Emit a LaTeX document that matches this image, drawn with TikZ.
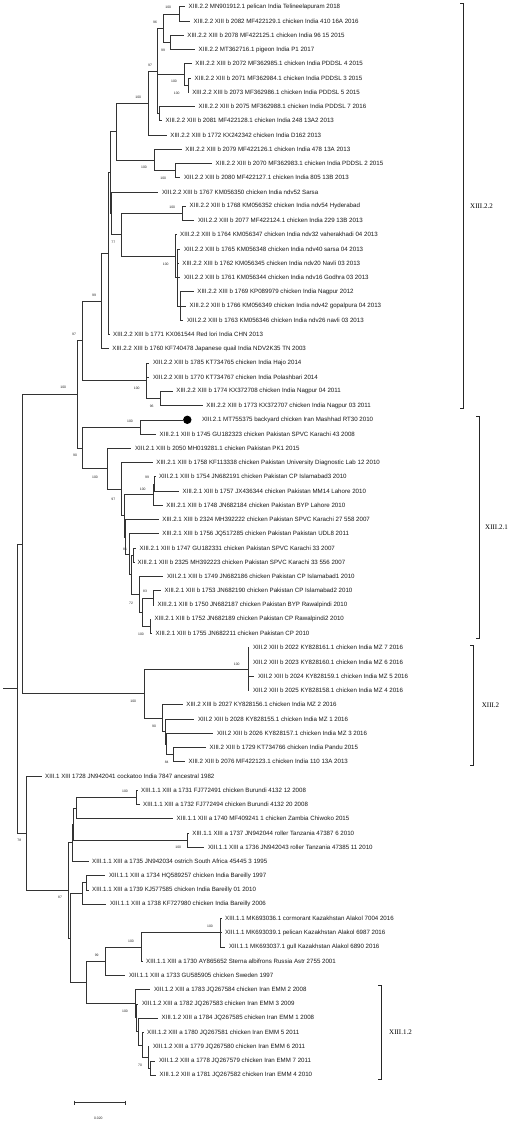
\documentclass[tikz,border=0pt]{standalone}
\usepackage{fontspec}
\setmainfont{Liberation Sans}
\newfontfamily\serifclade{Liberation Serif}
\usetikzlibrary{calc}
\tikzset{
 br/.style={draw=black!80, line width=0.6pt},
 lab/.style={anchor=west, inner sep=0pt, xshift=3.5pt, font=\fontsize{6.15}{7}\selectfont, text=black!90},
 bs/.style={inner sep=0pt, font=\fontsize{3.4}{4}\selectfont, text=black!85},
 clade/.style={anchor=west, inner sep=0pt, font=\serifclade\fontsize{7}{8}\selectfont},
 brk/.style={draw=black!85, line width=0.6pt},
}
\newcommand\lf[4]{\coordinate (#1) at (#3,{6.7+14.245*#2}); \node[lab] (t#1) at (#1) {#4};}
\newcommand\nd[4]{\path let \p1=(#3), \p2=(#4) in coordinate (#1) at (#2pt,{0.5*(\y1+\y2)}); \draw[br] (#1) |- (#3); \draw[br] (#1) |- (#4);}
\newcommand\ch[2]{\draw[br] (#1) |- (#2);}
\begin{document}
\begin{tikzpicture}[x=1pt,y=-1pt]
\useasboundingbox[fill=white] (0,0) rectangle (510,1122);
% ---------------- leaves
\lf{L0}{0}{185}{XIII.2.2 MN901912.1 pelican India Telineelapuram 2018}
\lf{L1}{1}{190}{XIII.2.2 XIII b 2082 MF422129.1 chicken India 410 16A 2016}
\lf{L2}{2}{183.7}{XIII.2.2 XIII b 2078 MF422125.1 chicken India 96 15 2015}
\lf{L3}{3}{195}{XIII.2.2 MT362716.1 pigeon India P1 2017}
\lf{L4}{4}{191.7}{XIII.2.2 XIII b 2072 MF362985.1 chicken India PDDSL 4 2015}
\lf{L5}{5}{191}{XIII.2.2 XIII b 2071 MF362984.1 chicken India PDDSL 3 2015}
\lf{L6}{6}{188.6}{XIII.2.2 XIII b 2073 MF362986.1 chicken India PDDSL 5 2015}
\lf{L7}{7}{195}{XIII.2.2 XIII b 2075 MF362988.1 chicken India PDDSL 7 2016}
\lf{L8}{8}{162}{XIII.2.2 XIII b 2081 MF422128.1 chicken India 248 13A2 2013}
\lf{L9}{9}{166.7}{XIII.2.2 XIII b 1772 KX242342 chicken India D162 2013}
\lf{L10}{10}{181.7}{XIII.2.2 XIII b 2079 MF422126.1 chicken India 478 13A 2013}
\lf{L11}{11}{212}{XIII.2.2 XIII b 2070 MF362983.1 chicken India PDDSL 2 2015}
\lf{L12}{12}{180.3}{XIII.2.2 XIII b 2080 MF422127.1 chicken India 805 13B 2013}
\lf{L13}{13}{158.3}{XIII.2.2 XIII b 1767 KM056350 chicken India ndv52 Sarsa}
\lf{L14}{14}{186}{XIII.2.2 XIII b 1768 KM056352 chicken India ndv54 Hyderabad}
\lf{L15}{15}{194.3}{XIII.2.2 XIII b 2077 MF422124.1 chicken India 229 13B 2013}
\lf{L16}{16}{176.5}{XIII.2.2 XIII b 1764 KM056347 chicken India ndv32 vaherakhadi 04 2013}
\lf{L17}{17}{180.3}{XIII.2.2 XIII b 1765 KM056348 chicken India ndv40 sarsa 04 2013}
\lf{L18}{18}{178.7}{XIII.2.2 XIII b 1762 KM056345 chicken India ndv20 Navli 03 2013}
\lf{L19}{19}{180.3}{XIII.2.2 XIII b 1761 KM056344 chicken India ndv16 Godhra 03 2013}
\lf{L20}{20}{193.7}{XIII.2.2 XIII b 1769 KP089979 chicken India Nagpur 2012}
\lf{L21}{21}{186}{XIII.2.2 XIII b 1766 KM056349 chicken India ndv42 gopalpura 04 2013}
\lf{L22}{22}{183.3}{XIII.2.2 XIII b 1763 KM056346 chicken India ndv26 navli 03 2013}
\lf{L23}{23}{109.5}{XIII.2.2 XIII b 1771 KX061544 Red lori India CHN 2013}
\lf{L24}{24}{108.7}{XIII.2.2 XIII b 1760 KF740478 Japanese quail India NDV2K35 TN 2003}
\lf{L25}{25}{149.3}{XIII.2.2 XIII b 1785 KT734765 chicken India Hajo 2014}
\lf{L26}{26}{149.3}{XIII.2.2 XIII b 1770 KT734767 chicken India Polashbari 2014}
\lf{L27}{27}{172.7}{XIII.2.2 XIII b 1774 KX372708 chicken India Nagpur 04 2011}
\lf{L28}{28}{202.7}{XIII.2.2 XIII b 1773 KX372707 chicken India Nagpur 03 2011}
\coordinate (L29) at (182.5,{6.7+14.245*29});
\node[circle, fill=black, minimum size=8.4pt, inner sep=0pt] (dot) at ($(L29)+(4.8,0)$) {};
\node[lab, xshift=15.8pt] (tL29) at (L29) {XIII.2.1 MT755375 backyard chicken Iran Mashhad RT30 2010};
\lf{L30}{30}{156}{XIII.2.1 XIII b 1745 GU182323 chicken Pakistan SPVC Karachi 43 2008}
\lf{L31}{31}{131.3}{XIII.2.1 XIII b 2050 MH019281.1 chicken Pakistan PK1 2015}
\lf{L32}{32}{152.7}{XIII.2.1 XIII b 1758 KF113338 chicken Pakistan University Diagnostic Lab 12 2010}
\lf{L33}{33}{155.3}{XIII.2.1 XIII b 1754 JN682191 chicken Pakistan CP Islamabad3 2010}
\lf{L34}{34}{179}{XIII.2.1 XIII b 1757 JX436344 chicken Pakistan MM14 Lahore 2010}
\lf{L35}{35}{162.7}{XIII.2.1 XIII b 1748 JN682184 chicken Pakistan BYP Lahore 2010}
\lf{L36}{36}{158.7}{XIII.2.1 XIII b 2324 MH392222 chicken Pakistan SPVC Karachi 27 558 2007}
\lf{L37}{37}{158.7}{XIII.2.1 XIII b 1756 JQ517285 chicken Pakistan Pakistan UDL8 2011}
\lf{L38}{38}{136}{XIII.2.1 XIII b 1747 GU182331 chicken Pakistan SPVC Karachi 33 2007}
\lf{L39}{39}{134}{XIII.2.1 XIII b 2325 MH392223 chicken Pakistan SPVC Karachi 33 556 2007}
\lf{L40}{40}{163.3}{XIII.2.1 XIII b 1749 JN682186 chicken Pakistan CP Islamabad1 2010}
\lf{L41}{41}{161}{XIII.2.1 XIII b 1753 JN682190 chicken Pakistan CP Islamabad2 2010}
\lf{L42}{42}{153.8}{XIII.2.1 XIII b 1750 JN682187 chicken Pakistan BYP Rawalpindi 2010}
\lf{L43}{43}{150.8}{XIII.2.1 XIII b 1752 JN682189 chicken Pakistan CP Rawalpindi2 2010}
\lf{L44}{44}{152}{XIII.2.1 XIII b 1755 JN682211 chicken Pakistan CP 2010}
\lf{L45}{45}{249.3}{XIII.2 XIII b 2022 KY828161.1 chicken India MZ 7 2016}
\lf{L46}{46}{249.3}{XIII.2 XIII b 2023 KY828160.1 chicken India MZ 6 2016}
\lf{L47}{47}{254.3}{XIII.2 XIII b 2024 KY828159.1 chicken India MZ 5 2016}
\lf{L48}{48}{249.3}{XIII.2 XIII b 2025 KY828158.1 chicken India MZ 4 2016}
\lf{L49}{49}{182.7}{XIII.2 XIII b 2027 KY828156.1 chicken India MZ 2 2016}
\lf{L50}{50}{194.3}{XIII.2 XIII b 2028 KY828155.1 chicken India MZ 1 2016}
\lf{L51}{51}{213.3}{XIII.2 XIII b 2026 KY828157.1 chicken India MZ 3 2016}
\lf{L52}{52}{206}{XIII.2 XIII b 1729 KT734766 chicken India Pandu 2015}
\lf{L53}{53}{185}{XIII.2 XIII b 2076 MF422123.1 chicken India 110 13A 2013}
\lf{L54}{54}{41.5}{XIII.1 XIII 1728 JN942041 cockatoo India 7847 ancestral 1982}
\lf{L55}{55}{137.5}{XIII.1.1 XIII a 1731 FJ772491 chicken Burundi 4132 12 2008}
\lf{L56}{56}{139.5}{XIII.1.1 XIII a 1732 FJ772494 chicken Burundi 4132 20 2008}
\lf{L57}{57}{173}{XIII.1.1 XIII a 1740 MF409241 1 chicken Zambia Chiwoko 2015}
\lf{L58}{58}{188.7}{XIII.1.1 XIII a 1737 JN942044 roller Tanzania 47387 6 2010}
\lf{L59}{59}{204.3}{XIII.1.1 XIII a 1736 JN942043 roller Tanzania 47385 11 2010}
\lf{L60}{60}{88.5}{XIII.1.1 XIII a 1735 JN942034 ostrich South Africa 45445 3 1995}
\lf{L61}{61}{105.3}{XIII.1.1 XIII a 1734 HQ589257 chicken India Bareilly 1997}
\lf{L62}{62}{88.5}{XIII.1.1 XIII a 1739 KJ577585 chicken India Bareilly 01 2010}
\lf{L63}{63}{106.3}{XIII.1.1 XIII a 1738 KF727980 chicken India Bareilly 2006}
\lf{L64}{64}{221.5}{XIII.1.1 MK693036.1 cormorant Kazakhstan Alakol 7004 2016}
\lf{L65}{65}{221.3}{XIII.1.1 MK693039.1 pelican Kazakhstan Alakol 6987 2016}
\lf{L66}{66}{225.3}{XIII.1.1 MK693037.1 gull Kazakhstan Alakol 6890 2016}
\lf{L67}{67}{142.5}{XIII.1.1 XIII a 1730 AY865652 Sterna albifrons Russia Astr 2755 2001}
\lf{L68}{68}{125.3}{XIII.1.1 XIII a 1733 GU585905 chicken Sweden 1997}
\lf{L69}{69}{150.3}{XIII.1.2 XIII a 1783 JQ267584 chicken Iran EMM 2 2008}
\lf{L70}{70}{138.3}{XIII.1.2 XIII a 1782 JQ267583 chicken Iran EMM 3 2009}
\lf{L71}{71}{158}{XIII.1.2 XIII a 1784 JQ267585 chicken Iran EMM 1 2008}
\lf{L72}{72}{143.5}{XIII.1.2 XIII a 1780 JQ267581 chicken Iran EMM 5 2011}
\lf{L73}{73}{149.3}{XIII.1.2 XIII a 1779 JQ267580 chicken Iran EMM 6 2011}
\lf{L74}{74}{155.3}{XIII.1.2 XIII a 1778 JQ267579 chicken Iran EMM 7 2011}
\lf{L75}{75}{156}{XIII.1.2 XIII a 1781 JQ267582 chicken Iran EMM 4 2010}
% ---------------- XIII.2.2
\nd{A}{179}{L0}{L1}
\nd{B}{170.7}{L2}{L3}
\nd{AB}{163}{A}{B}
\nd{N56}{188.3}{L5}{L6}
\nd{N46}{184.3}{L4}{N56}
\nd{N78}{159.3}{L7}{L8}
\nd{D}{157.3}{AB}{N78} \ch{D}{N46}
\nd{C}{148.3}{D}{L9}
\nd{N1112}{175.7}{L11}{L12}
\nd{N1012}{154.3}{L10}{N1112}
\nd{F}{116}{C}{N1012}
\nd{N1415}{182.7}{L14}{L15}
\nd{R}{180}{L20}{L22} \ch{R}{L21}
\nd{Q}{177}{L17}{R} \ch{Q}{L18} \ch{Q}{L19}
\nd{P}{175.5}{L16}{Q}
\nd{I}{121.7}{N1415}{P}
\nd{H}{111.7}{L13}{I}
\nd{G}{110}{F}{H}
\nd{N023}{108.3}{G}{L23}
\nd{M22}{101.7}{N023}{L24}
\nd{N2728}{160}{L27}{L28}
\nd{HJ}{146.7}{L25}{N2728} \ch{HJ}{L26}
\nd{N1}{82.3}{M22}{HJ}
% ---------------- XIII.2.1
\nd{N2930}{140}{L29}{L30}
\nd{Y}{154.7}{L33}{L34}
\nd{X}{153.3}{Y}{L35}
\nd{Z3}{133.5}{L38}{L39}
\nd{N4142}{153.3}{L41}{L42}
\nd{N4344}{150}{L43}{L44}
\nd{Z4p}{142.7}{N4142}{N4344}
\nd{Z4}{139.5}{L40}{Z4p}
\nd{Z2}{131.7}{Z3}{Z4}
\nd{W3}{129.5}{L37}{Z2}
\nd{W2p}{124.8}{L36}{W3}
\nd{W}{123.8}{X}{W2p}
\nd{U}{121.7}{L32}{W}
\nd{T}{107.7}{L31}{U}
\nd{S}{82.3}{N2930}{T}
\nd{N2}{77.7}{N1}{S}
% ---------------- XIII.2
\nd{AA}{248}{L45}{L48} \ch{AA}{L46} \ch{AA}{L47}
\nd{EE}{173.3}{L52}{L53}
\nd{DD}{166.7}{L51}{EE}
\nd{CC}{165}{L50}{DD}
\nd{BB}{162}{L49}{CC}
\nd{X2}{144}{AA}{BB}
\nd{K}{22.7}{N2}{X2}
% ---------------- XIII.1
\nd{N5556}{136}{L55}{L56}
\nd{II}{76.7}{N5556}{L57}
\nd{KK}{187.7}{L58}{L59}
\nd{JJ}{73.7}{II}{KK}
\nd{LL}{72.3}{JJ}{L60}
\nd{NN}{86}{L61}{L62}
\nd{MM}{82.3}{NN}{L63}
\nd{TT}{220.7}{L64}{L66} \ch{TT}{L65}
\nd{SS}{141.7}{TT}{L67}
\nd{PP}{105}{SS}{L68}
\nd{ZZ1}{150.3}{L74}{L75}
\nd{ZZ2}{148.3}{L73}{ZZ1}
\nd{ZZ3}{142.7}{L72}{ZZ2}
\nd{ZZ4}{138.7}{L71}{ZZ3}
\nd{ZZ5}{136.7}{L70}{ZZ4}
\nd{QQ}{135.3}{L69}{ZZ5}
\nd{HH}{86}{PP}{QQ}
\nd{OO}{70}{MM}{HH}
\nd{FF}{68.3}{LL}{OO}
\nd{X1}{26.7}{L54}{FF}
\nd{Root}{17.7}{K}{X1}
\path (Root) ++(-14.4,0) coordinate (R0);
\draw[br] (R0) -- (Root);
% ---------------- bootstrap values
\node[bs] (b1) at (168.3,7.3) {100};
\node[bs] (b2) at (155,22.7) {96};
\node[bs] (b3) at (163,50.7) {99};
\node[bs] (b4) at (150,65) {97};
\node[bs] (b5) at (174,81.7) {100};
\node[bs] (b6) at (176.7,93) {100};
\node[bs] (b7) at (138.3,97) {100};
\node[bs] (b8) at (144,167.7) {100};
\node[bs] (b9) at (163.3,178.3) {100};
\node[bs] (b10) at (172.3,207) {100};
\node[bs] (b11) at (113.3,242.7) {77};
\node[bs] (b12) at (165.7,264) {100};
\node[bs] (b13) at (94,295) {99};
\node[bs] (b14) at (74,334.3) {97};
\node[bs] (b15) at (63.3,387.3) {100};
\node[bs] (b16) at (136.7,388.3) {100};
\node[bs] (b17) at (151.7,406.7) {96};
\node[bs] (b18) at (130,421) {100};
\node[bs] (b19) at (75,455) {90};
\node[bs] (b20) at (95,477) {100};
\node[bs] (b21) at (147,477.5) {99};
\node[bs] (b22) at (142.7,489) {100};
\node[bs] (b23) at (113.3,499) {97};
\node[bs] (b24) at (125,549) {81};
\node[bs] (b25) at (145,591.7) {83};
\node[bs] (b26) at (131,603.3) {72};
\node[bs] (b27) at (141,634) {100};
\node[bs] (b28) at (236.7,664) {100};
\node[bs] (b29) at (133.3,701) {100};
\node[bs] (b30) at (154,726) {90};
\node[bs] (b31) at (166.7,762.3) {84};
\node[bs] (b32) at (125,791.7) {100};
\node[bs] (b33) at (178.3,847.7) {100};
\node[bs] (b34) at (19.3,840) {78};
\node[bs] (b35) at (60,897.7) {87};
\node[bs] (b36) at (210,926.7) {100};
\node[bs] (b37) at (131,941) {100};
\node[bs] (b38) at (96.7,955) {99};
\node[bs] (b39) at (125,1011) {100};
\node[bs] (b40) at (140,1065) {70};
% ---------------- clade brackets
\coordinate (k1t) at (463.3,3.3); \coordinate (k1b) at (463.3,408.3);
\draw[brk] ($(k1t)+(-3,0)$) -- (k1t) -- (k1b) -- ($(k1b)+(-3,0)$);
\node[clade] (c1) at (470,205.8) {XIII.2.2};
\coordinate (k2t) at (479,416.7); \coordinate (k2b) at (479,638.3);
\draw[brk] ($(k2t)+(-3,0)$) -- (k2t) -- (k2b) -- ($(k2b)+(-3,0)$);
\node[clade] (c2) at (485,527.5) {XIII.2.1};
\coordinate (k3t) at (473.3,645); \coordinate (k3b) at (473.3,765);
\draw[brk] ($(k3t)+(-3,0)$) -- (k3t) -- (k3b) -- ($(k3b)+(-3,0)$);
\node[clade] (c3) at (481.7,705) {XIII.2};
\coordinate (k4t) at (381,985.7); \coordinate (k4b) at (381,1079.3);
\draw[brk] ($(k4t)+(-3,0)$) -- (k4t) -- (k4b) -- ($(k4b)+(-3,0)$);
\node[clade] (c4) at (389,1032.5) {XIII.1.2};
% ---------------- scale bar
\coordinate (s1) at (74,1102.7); \coordinate (s2) at (125.3,1102.7);
\draw[br] (s1) -- (s2);
\draw[br] ($(s1)+(0,-2)$) -- ($(s1)+(0,2)$);
\draw[br] ($(s2)+(0,-2)$) -- ($(s2)+(0,2)$);
\node[bs] (sl) at (98.3,1118.3) {0.020};
\end{tikzpicture}
\end{document}
